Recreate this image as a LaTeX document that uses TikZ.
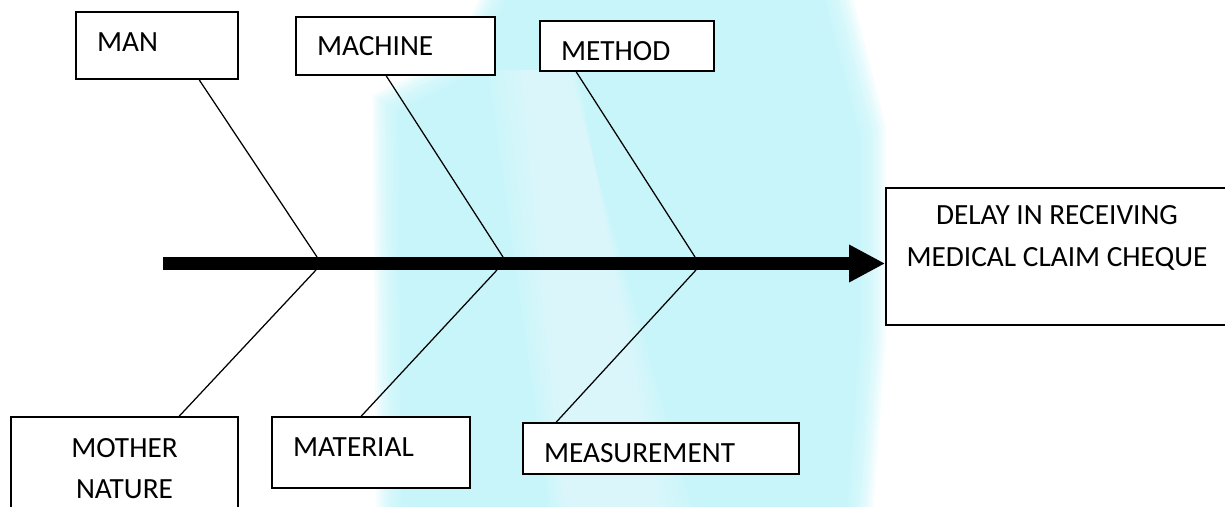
\documentclass[tikz,border=0pt]{standalone}
\usepackage{fontspec}
\setmainfont{Carlito}
\usetikzlibrary{arrows.meta,calc}

\definecolor{wm}{RGB}{189,243,249}
\newcommand\boxfont{\fontsize{29.3}{41}\selectfont}
\newcommand\effectfont{\fontsize{29.3}{42}\selectfont}

\begin{document}
\begin{tikzpicture}[x=1pt,y=-1pt,
  box/.style={draw, line width=1.6pt, fill=white, inner sep=0pt, font=\boxfont},
  lbox/.style={box, align=left, inner xsep=21pt},
  bone/.style={line width=1.25pt},
  spine/.style={line width=13pt, -{Triangle[length=36pt,width=35pt]}}]

  \clip (0,0) rectangle (1225,506);

  % soft cyan backdrop, built from stacked translucent layers
  \def\wmpath{(528,-40) -- (812,-40) -- (858,140) -- (858,330) -- (842,546) -- (404,546) -- (400,112) -- (470,78) -- cycle}
  \foreach \k in {0,...,11}{
    \fill[wm, opacity=0.14, shift={(628,253)}, xscale={1+0.011*\k}, yscale={1+0.011*\k}, shift={(-628,-253)}] \wmpath;
  }
  % lighter diagonal streak
  \def\streak{(528,70) -- (578,70) -- (662,546) -- (570,546) -- cycle}
  \foreach \k in {0,...,5}{
    \fill[white, opacity=0.08, shift={(595,300)}, xscale={1+0.12*\k}, shift={(-595,-300)}] \streak;
  }

  % cause boxes
  \node[lbox, text width=120pt, minimum height=67pt, text depth=6pt] (man) at (157,45.5) {MAN};
  \node[lbox, text width=157pt, minimum height=58pt] (machine) at (395.5,46) {MACHINE};
  \node[lbox, text width=132pt, minimum height=50pt, text height=29pt] (method) at (627,46) {METHOD};
  \node[box, align=center, minimum width=227pt, minimum height=103pt] (nature) at (124.5,468.5) {MOTHER\\NATURE};
  \node[lbox, text width=156pt, minimum height=71pt, text depth=10pt] (material) at (371,452.5) {MATERIAL};
  \node[lbox, text width=234pt, minimum height=51pt, text height=28pt] (measurement) at (661,448.5) {MEASUREMENT};

  % effect box
  \node[box, font=\effectfont, align=center, minimum width=342pt, minimum height=137pt] (delay) at (1057,256.5)
    {DELAY IN RECEIVING\\MEDICAL CLAIM CHEQUE\\\mbox{}};

  % spine
  \coordinate (tail) at (163,263.5);
  \draw[spine] (tail) -- (tail -| delay.west);

  % joints on the spine
  \coordinate (s1u) at (317,257);
  \coordinate (s1d) at (316,270);
  \coordinate (s2u) at (503,257);
  \coordinate (s2d) at (497,270);
  \coordinate (s3u) at (695,257);
  \coordinate (s3d) at (696,270);

  % bones
  \draw[bone] ($(man.south west)+(124,0)$) -- (s1u);
  \draw[bone] ($(machine.south west)+(91,0)$) -- (s2u);
  \draw[bone] ($(method.south west)+(37,0)$) -- (s3u);
  \draw[bone] (s1d) -- ($(nature.north west)+(169,0)$);
  \draw[bone] (s2d) -- ($(material.north west)+(90,0)$);
  \draw[bone] (s3d) -- ($(measurement.north west)+(34,0)$);
\end{tikzpicture}
\end{document}
